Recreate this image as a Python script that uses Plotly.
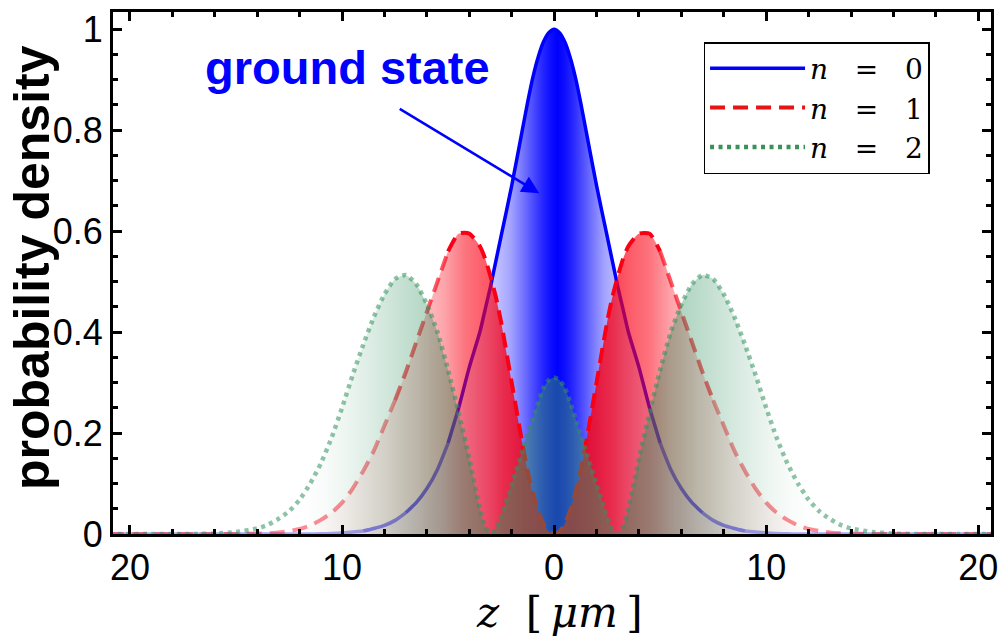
import plotly.graph_objects as go

# Position along the trap axis, z in micrometres
z = [-21, -19, -18, -17, -16, -15, -14, -13.5, -13, -12.5, -12, -11.5, -11, -10.5,
     -10, -9.5, -9, -8.5, -8, -7.5, -7, -6.5, -6, -5.5, -5, -4.5, -4, -3.5, -3.25,
     -3, -2.75, -2.5, -2, -1.5, -1.25, -1, -0.75, -0.5, -0.25, 0, 0.25, 0.5, 0.75, 1, 1.25,
     1.5, 2, 2.5, 2.75, 3, 3.25,
     3.5, 4, 4.5, 5, 5.5, 6, 6.5, 7, 7.5, 8, 8.5, 9, 9.5, 10, 10.5, 11, 11.5, 12,
     12.5, 13, 13.5, 14, 15, 16, 17, 18, 19, 21]

# Probability densities of the three lowest states
n0 = [0, 0, 0, 0, 0, 0, 0, 0, 0, 0, 0, 0, 0.0005, 0.001,
      0.002, 0.004, 0.006, 0.011, 0.017, 0.027, 0.042, 0.062, 0.09, 0.128, 0.18, 0.25, 0.33, 0.40, 0.445,
      0.49, 0.54, 0.59, 0.69, 0.80, 0.855, 0.905, 0.945, 0.975, 0.993, 1.0, 0.993, 0.975, 0.945, 0.905, 0.855,
      0.80, 0.69, 0.59, 0.54, 0.49, 0.445,
      0.40, 0.33, 0.25, 0.18, 0.128, 0.09, 0.062, 0.042, 0.027, 0.017, 0.011, 0.006, 0.004, 0.002, 0.001, 0.0005, 0, 0,
      0, 0, 0, 0, 0, 0, 0, 0, 0, 0]

n1 = [0, 0, 0, 0, 0, 0, 0.001, 0.0015, 0.003, 0.006, 0.01, 0.017, 0.028, 0.042,
      0.062, 0.09, 0.125, 0.165, 0.215, 0.265, 0.32, 0.38, 0.44, 0.50, 0.56, 0.595, 0.595, 0.57, 0.545,
      0.51, 0.47, 0.42, 0.30, 0.18, 0.125, 0.08, 0.045, 0.02, 0.005, 0.0, 0.005, 0.02, 0.045, 0.08, 0.125,
      0.18, 0.30, 0.42, 0.47, 0.51, 0.545,
      0.57, 0.595, 0.595, 0.56, 0.50, 0.44, 0.38, 0.32, 0.265, 0.215, 0.165, 0.125, 0.09, 0.062, 0.042, 0.028, 0.017, 0.01,
      0.006, 0.003, 0.0015, 0.001, 0, 0, 0, 0, 0, 0]

n2 = [0, 0, 0, 0, 0.001, 0.004, 0.011, 0.018, 0.03, 0.045, 0.068, 0.10, 0.14, 0.19,
      0.25, 0.315, 0.375, 0.43, 0.475, 0.505, 0.513, 0.495, 0.455, 0.40, 0.325, 0.24, 0.15, 0.05, 0.015,
      0.001, 0.01, 0.035, 0.10, 0.165, 0.198, 0.23, 0.262, 0.29, 0.305, 0.31, 0.305, 0.29, 0.262, 0.23, 0.198,
      0.165, 0.10, 0.035, 0.01, 0.001, 0.015,
      0.05, 0.15, 0.24, 0.325, 0.40, 0.455, 0.495, 0.513, 0.505, 0.475, 0.43, 0.375, 0.315, 0.25, 0.19, 0.14, 0.10, 0.068,
      0.045, 0.03, 0.018, 0.011, 0.004, 0.001, 0, 0, 0, 0]

# Tick labels on z show the distance from the trap centre
x_label_alias = {"\u221220": "20", "\u221210": "10", "-20": "20", "-10": "10"}

# Styling: base colours, fill opacity versus |z| and line opacity per |z| band
BLUE = (0, 0, 255)
RED = (250, 0, 20)
GREEN = (50, 145, 95)

BLUE_FILL = [(0, 1.0), (0.3, 0.95), (0.7, 0.85), (1.1, 0.72), (1.6, 0.55), (2.2, 0.36),
             (3.0, 0.22), (4.0, 0.13), (5.5, 0.07), (8, 0.03), (12, 0.0), (21, 0.0)]
RED_FILL = [(0, 0.85), (1.5, 0.83), (2.5, 0.76), (3.2, 0.66), (4.3, 0.55), (5.3, 0.36),
            (6.5, 0.22), (8, 0.12), (10, 0.05), (12, 0.0), (21, 0.0)]
GREEN_FILL = [(0, 0.5), (2, 0.5), (4, 0.46), (5.5, 0.4), (7, 0.3), (8, 0.22), (9, 0.15),
              (10, 0.08), (11, 0.03), (12, 0.0), (21, 0.0)]

BLUE_LINE = [(0, 5, 1.0), (5, 7, 0.7), (7, 9, 0.5), (9, 21, 0.35)]
RED_LINE = [(0, 5, 1.0), (5, 7.5, 0.65), (7.5, 21, 0.45)]
GREEN_LINE = [(0, 21, 0.55)]

ZMIN, ZMAX = -21, 21


def rgba(c, a):
    return f"rgba({c[0]},{c[1]},{c[2]},{a})"


def gradient(color, fade):
    stops = {}
    for d, a in fade:
        for s in (-d, d):
            t = (s - ZMIN) / (ZMAX - ZMIN)
            stops[round(t, 6)] = a
    return [[t, rgba(color, a)] for t, a in sorted(stops.items())]


def banded(xs, ys, lo, hi):
    bx, by = [], []
    prev = False
    for xv, yv in zip(xs, ys):
        inside = lo <= abs(xv) <= hi
        if inside:
            bx.append(xv)
            by.append(yv)
        elif prev:
            bx.append(None)
            by.append(None)
        prev = inside
    return bx, by


fig = go.Figure()

series = [
    ("0", n0, BLUE, BLUE_FILL, BLUE_LINE, "solid", 3.5),
    ("1", n1, RED, RED_FILL, RED_LINE, "15px,8px", 4),
    ("2", n2, GREEN, GREEN_FILL, GREEN_LINE, "4px,4.5px", 4.5),
]

for label, ys, color, fade, bands, dash, width in series:
    fig.add_trace(go.Scatter(
        x=z, y=ys, mode="lines", line=dict(width=0, shape="spline", smoothing=0.6),
        fill="tozeroy",
        fillgradient=dict(type="horizontal", colorscale=gradient(color, fade),
                          start=ZMIN, stop=ZMAX),
        showlegend=False, hoverinfo="skip"))
    for lo, hi, a in bands:
        bx, by = banded(z, ys, lo, hi)
        fig.add_trace(go.Scatter(
            x=bx, y=by, mode="lines", connectgaps=False,
            line=dict(color=rgba(color, a), width=width, dash=dash,
                      shape="spline", smoothing=0.6),
            showlegend=False, hoverinfo="skip"))

legend_colors = [(0, 0, 255), (230, 20, 20), (60, 145, 90)]
for (label, ys, color, fade, bands, dash, width), lc in zip(series, legend_colors):
    fig.add_trace(go.Scatter(
        x=[None], y=[None], mode="lines",
        name=f"<i>n</i>\u00a0\u00a0\u00a0=\u00a0\u00a0\u00a0{label}",
        line=dict(color=rgba(lc, 1), width=width, dash=dash)))

axis_common = dict(
    showline=True, linecolor="black", linewidth=3, mirror="ticks",
    ticks="inside", tickcolor="black", tickwidth=2.5, ticklen=9,
    showgrid=False, zeroline=False,
    tickfont=dict(family="Liberation Sans, Arial, sans-serif", size=36, color="black"),
)

fig.update_xaxes(range=[-20.8, 20.6], tickmode="linear", tick0=0, dtick=10,
                 labelalias=x_label_alias,
                 minor=dict(dtick=2, tick0=0, ticks="inside", ticklen=5,
                            tickwidth=2.5, tickcolor="black"),
                 **axis_common)
fig.update_yaxes(range=[0, 1.034], tickmode="linear", tick0=0, dtick=0.2,
                 minor=dict(dtick=0.05, tick0=0, ticks="inside", ticklen=5,
                            tickwidth=2.5, tickcolor="black"),
                 **axis_common)

fig.add_annotation(
    text="probability density", textangle=-90, showarrow=False,
    xref="paper", yref="paper", x=-0.092, y=0.51, xanchor="center", yanchor="middle",
    font=dict(family="Liberation Sans, Arial, sans-serif", size=50, color="black",
              weight="bold"))

fig.add_annotation(
    text="<i>z</i>\u00a0\u00a0[\u2009<i>μm</i>\u2009]", showarrow=False,
    xref="paper", yref="paper", x=0.508, y=-0.15, xanchor="center", yanchor="middle",
    font=dict(family="DejaVu Serif, serif", size=42, color="black"))

fig.add_annotation(
    text="ground state", showarrow=False, xref="x", yref="y", x=-9.74, y=0.925,
    xanchor="center", yanchor="middle",
    font=dict(family="Liberation Sans, Arial, sans-serif", size=47, color="blue",
              weight="bold"))

fig.add_annotation(
    text="", x=-0.70, y=0.675, ax=-7.35, ay=0.844, xref="x", yref="y",
    axref="x", ayref="y", showarrow=True, arrowhead=2, arrowsize=1.4,
    arrowwidth=2.5, arrowcolor="blue", standoff=0)

fig.update_layout(
    width=1005, height=638,
    margin=dict(l=113, r=7, t=12, b=104),
    paper_bgcolor="white", plot_bgcolor="white",
    legend=dict(x=0.93, y=0.9425, xanchor="right", yanchor="top",
                bgcolor="white", bordercolor="black", borderwidth=1.5,
                itemwidth=95,
                font=dict(family="DejaVu Serif, serif", size=28, color="black")),
)

fig.write_html("out.html")
